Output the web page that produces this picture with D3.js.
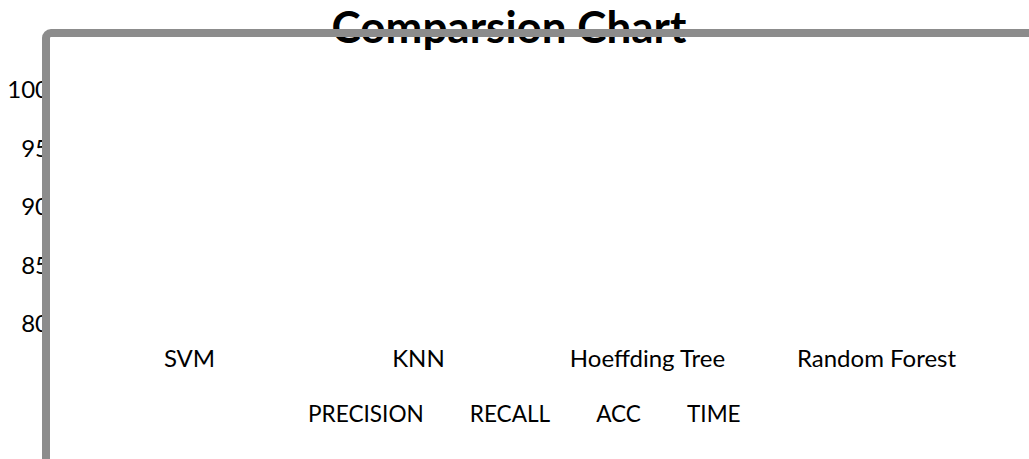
<!DOCTYPE html>
<html>
<head>
<meta charset="utf-8">
<script src="https://cdn.jsdelivr.net/npm/d3@7"></script>
<style>
  body { margin: 0; background: #fff; }
  svg { display: block; font-family: Lato, "Open Sans", sans-serif; }
</style>
</head>
<body>
<svg id="chart" width="1029" height="459"></svg>
<script>
/*------------------------
  -------- DATA ----------
  ------------------------*/
var title = "Comparsion Chart";
var classifiers = ["SVM", "KNN", "Hoeffding Tree", "Random Forest"];
var metrics = ["PRECISION", "RECALL", "ACC", "TIME"];
var y_ticks = [80, 85, 90, 95, 100];
// no bar is visible in the picture, so the series hold no values
var precision = [];
var recall = [];
var acc = [];
var time = [];

var svg = d3.select("#chart");
var frame_col = "#8c8c8c";

var x = d3.scaleBand().domain(classifiers).range([75, 991]);
var y = d3.scaleLinear().domain([80, 100]).range([324, 90]);
var series_col = d3.scaleOrdinal().domain(metrics)
    .range(["#4f81bd", "#c0504d", "#9bbb59", "#8064a2"]);

/*------------------------
  ------- DISPLAY --------
  ------------------------*/
function display_title() {
    svg.append("text")
        .attr("x", 509)
        .attr("y", 43)
        .attr("text-anchor", "middle")
        .attr("font-weight", "bold")
        .attr("font-size", 44)
        .text(title);
}

function display_y_axis() {
    svg.append("clipPath").attr("id", "yclip")
        .append("rect").attr("x", 0).attr("y", 0).attr("width", 43).attr("height", 459);

    var ax = d3.axisLeft(y).tickValues(y_ticks).tickSize(0).tickPadding(0);
    var g = svg.append("g")
        .attr("clip-path", "url(#yclip)")
        .append("g")
        .attr("transform", "translate(49,0)")
        .call(ax);
    g.select(".domain").remove();
    g.selectAll("text")
        .attr("font-size", 24)
        .attr("font-family", "Lato, sans-serif")
        .attr("fill", "#000");
}

function display_bars() {
    var sets = [precision, recall, acc, time];
    var sub = d3.scaleBand().domain(metrics).range([0, x.bandwidth()]).padding(0.1);
    metrics.forEach(function(m, i) {
        svg.selectAll(".bar-" + i)
            .data(sets[i])
            .enter()
            .append("rect")
            .attr("class", "bar-" + i)
            .attr("x", function(d, j) { return x(classifiers[j]) + sub(m); })
            .attr("y", function(d) { return y(d); })
            .attr("width", sub.bandwidth())
            .attr("height", function(d) { return y(80) - y(d); })
            .attr("fill", series_col(m));
    });
}

function display_x_labels() {
    svg.selectAll(".cat")
        .data(classifiers)
        .enter()
        .append("text")
        .attr("class", "cat")
        .attr("x", function(c) { return x(c) + x.bandwidth() / 2; })
        .attr("y", 367)
        .attr("text-anchor", "middle")
        .attr("font-size", 24)
        .text(function(c) { return c; });
}

function display_legend() {
    var lx = 308;
    metrics.forEach(function(m) {
        var t = svg.append("text")
            .attr("class", "legend")
            .attr("x", lx)
            .attr("y", 422)
            .attr("font-size", 22.6)
            .text(m);
        lx += t.node().getComputedTextLength() + 46;
    });
}

function display_frame() {
    svg.append("rect")
        .attr("x", 46)
        .attr("y", 33)
        .attr("width", 1200)
        .attr("height", 700)
        .attr("rx", 5)
        .attr("fill", "none")
        .attr("stroke", frame_col)
        .attr("stroke-width", 8);
}

/*---------------------
        -- RUN --
  ---------------------*/
display_title();
display_y_axis();
display_bars();
display_x_labels();
display_legend();
display_frame();
</script>
</body>
</html>
